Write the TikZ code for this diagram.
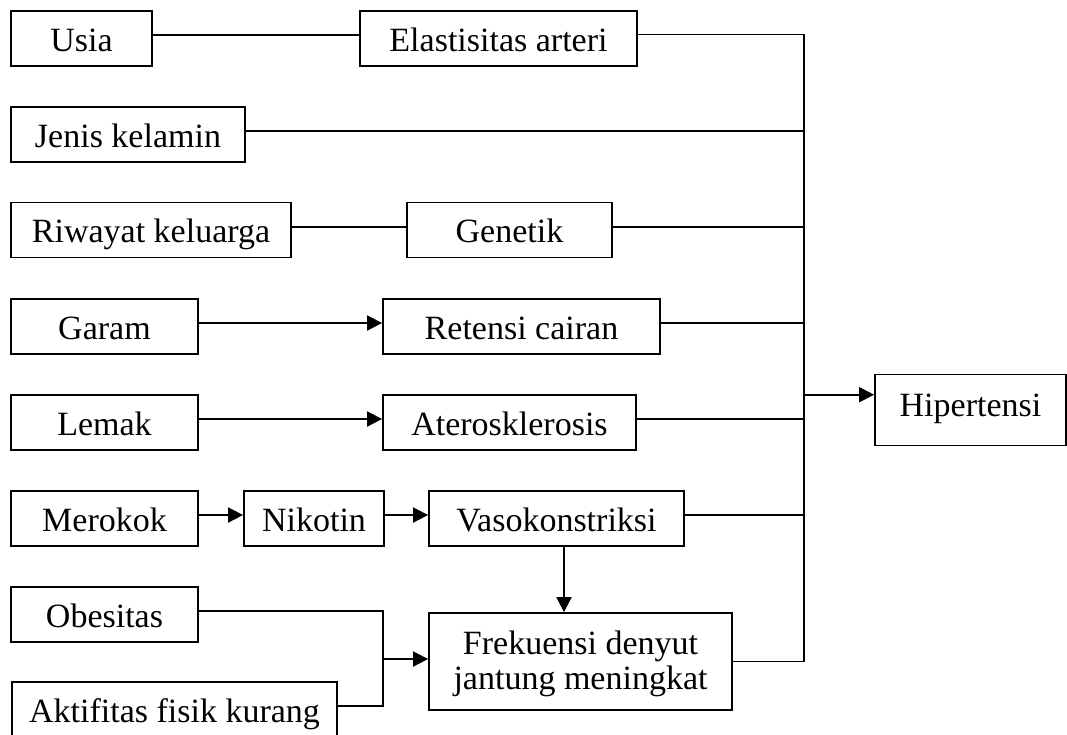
\documentclass[tikz,border=0pt]{standalone}
\usepackage{fontspec}
\setmainfont{Liberation Serif}
\usetikzlibrary{arrows.meta}
\tikzset{
  boxbase/.style={draw, line width=1.8pt, inner sep=0pt, align=center, font=\fontsize{34}{35}\selectfont},
  box/.style={boxbase, minimum height=55pt, text height=27pt, text depth=2pt},
  conn/.style={line width=1.8pt},
  arr/.style={line width=1.8pt, -{Triangle[length=15pt,width=15pt]}}
}
\begin{document}
\begin{tikzpicture}[x=1pt,y=-1pt]
\useasboundingbox (0,0) rectangle (1067,734);
% boxes
\node[box, minimum width=141pt] (usia) at (81.5,38.5) {Usia};
\node[box, minimum width=277pt] (elast) at (498.5,38.5) {Elastisitas arteri};
\node[box, minimum width=234pt] (jenis) at (128,134.5) {Jenis kelamin};
\node[box, minimum width=280pt] (riwayat) at (151,230) {Riwayat keluarga};
\node[box, minimum width=205pt] (genetik) at (509.5,230) {Genetik};
\node[box, minimum width=187pt] (garam) at (104.5,326.5) {Garam};
\node[box, minimum width=277pt] (retensi) at (521.5,326.5) {Retensi cairan};
\node[box, minimum width=187pt] (lemak) at (104.5,422.5) {Lemak};
\node[box, minimum width=253pt] (atero) at (509.5,422.5) {Aterosklerosis};
\node[box, minimum width=187pt] (merokok) at (104.5,518.5) {Merokok};
\node[box, minimum width=140pt] (nikotin) at (314,518.5) {Nikotin};
\node[box, minimum width=255pt] (vaso) at (556.5,518.5) {Vasokonstriksi};
\node[box, minimum width=187pt] (obesitas) at (104.5,614.5) {Obesitas};
\node[box, minimum width=325pt] (aktif) at (174.5,709.5) {Aktifitas fisik kurang};
\node[boxbase, minimum width=303pt, minimum height=97pt, text height=60pt, text depth=5pt] (frek) at (580.5,661.5) {Frekuensi denyut\\jantung meningkat};
\node[boxbase, minimum width=191pt, minimum height=71pt, text height=22pt, text depth=8.6pt] (hiper) at (970.5,410) {Hipertensi};
% bus coordinates
\coordinate (bustop) at (804,34.5);
\coordinate (busbot) at (804,661.5);
\coordinate (busout) at (804,394.7);
\coordinate (jn) at (383,659);
% left-side connectors
\draw[conn] ([yshift=3.5pt]usia.east) -- ([yshift=3.5pt]usia.east -| elast.west);
\draw[arr] ([yshift=3.5pt]garam.east) -- ([yshift=3.5pt]garam.east -| retensi.west);
\draw[conn] ([yshift=3pt]riwayat.east) -- ([yshift=3pt]riwayat.east -| genetik.west);
\draw[arr] ([yshift=3.5pt]lemak.east) -- ([yshift=3.5pt]lemak.east -| atero.west);
\draw[arr] ([yshift=3.5pt]merokok.east) -- ([yshift=3.5pt]merokok.east -| nikotin.west);
\draw[arr] ([yshift=3.5pt]nikotin.east) -- ([yshift=3.5pt]nikotin.east -| vaso.west);
\draw[arr] ([xshift=7.5pt]vaso.south) -- ([xshift=7.5pt]vaso.south |- frek.north);
\draw[conn] ([yshift=3.5pt]obesitas.east) -| (jn) |- ([yshift=3.5pt]aktif.east);
\draw[arr] (jn) -- (jn -| frek.west);
% bus
\draw[conn] ([yshift=4pt]elast.east) -- (bustop) -- (busbot) -- (frek.east);
\draw[conn] ([yshift=3.5pt]jenis.east) -- ([yshift=3.5pt]jenis.east -| bustop);
\draw[conn] ([yshift=3pt]genetik.east) -- ([yshift=3pt]genetik.east -| bustop);
\draw[conn] ([yshift=3.5pt]retensi.east) -- ([yshift=3.5pt]retensi.east -| bustop);
\draw[conn] ([yshift=3.5pt]atero.east) -- ([yshift=3.5pt]atero.east -| bustop);
\draw[conn] ([yshift=3.5pt]vaso.east) -- ([yshift=3.5pt]vaso.east -| bustop);
\draw[arr] (busout) -- (busout -| hiper.west);
\end{tikzpicture}
\end{document}
